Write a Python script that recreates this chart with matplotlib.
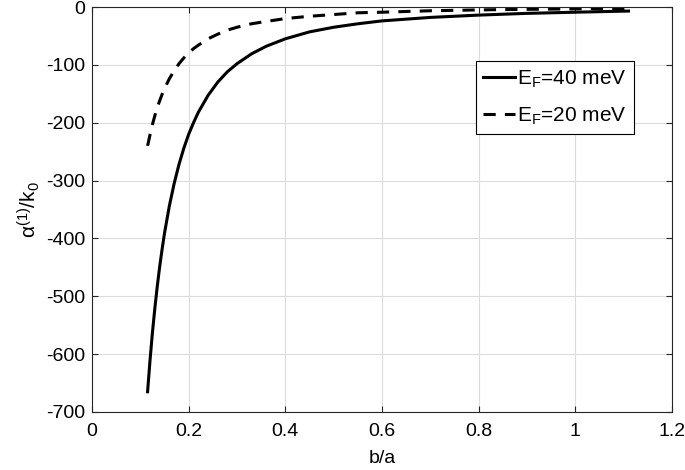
import matplotlib
matplotlib.use('Agg')
import matplotlib.pyplot as plt

# values
b_over_a = [0.115, 0.12, 0.125, 0.13, 0.135, 0.14, 0.145, 0.15, 0.16, 0.17,
            0.18, 0.19, 0.2, 0.21, 0.22, 0.24, 0.26, 0.28, 0.3, 0.33,
            0.36, 0.4, 0.45, 0.5, 0.55, 0.6, 0.7, 0.8, 0.9, 1.0, 1.11]
alpha_40 = [-665, -611, -563, -521, -483, -449, -419, -391, -344, -305,
            -272, -244, -220, -200, -182, -153, -130, -112, -98, -81,
            -68, -55, -43, -35, -29, -24, -18, -14, -11, -9, -7]
alpha_20 = [-240, -221, -203, -188, -174, -162, -151, -141, -124, -110,
            -98, -88, -79, -72, -66, -55, -47, -40, -35, -29,
            -25, -20, -16, -13, -10, -9, -6.5, -5, -4, -3.2, -2.6]
labels = ['E$_{\\rm F}$=40 meV', 'E$_{\\rm F}$=20 meV']

plt.rcParams['font.family'] = ['Liberation Sans', 'DejaVu Sans']
plt.rcParams['mathtext.fontset'] = 'custom'
plt.rcParams['mathtext.rm'] = 'Liberation Sans'
plt.rcParams['mathtext.it'] = 'Liberation Sans'
plt.rcParams['axes.unicode_minus'] = False

fig = plt.figure(figsize=(6.85, 4.70), dpi=100)
ax = fig.add_axes([92 / 685, 1 - 412 / 470, 580 / 685, 405 / 470])

ax.plot(b_over_a, alpha_40, color='black', linewidth=2.2, label=labels[0])
ax.plot(b_over_a, alpha_20, color='black', linewidth=2.2, linestyle=(0, (4, 3)), label=labels[1])

ax.set_xlim(0, 1.2)
ax.set_ylim(-700, 0)
ax.set_xticks([0, 0.2, 0.4, 0.6, 0.8, 1, 1.2])
ax.set_xticklabels(['0', '0.2', '0.4', '0.6', '0.8', '1', '1.2'])
ax.set_yticks(range(-700, 1, 100))

ax.set_xlabel('b/a', fontsize=14, labelpad=7)
ax.set_ylabel('α$^{\\rm (1)}$/k$_{\\rm 0}$', fontsize=15, labelpad=3)

ax.grid(True, color='#dcdcdc', linewidth=0.8)
ax.set_axisbelow(True)
for s in ax.spines.values():
    s.set_color('#262626')
    s.set_linewidth(0.8)
ax.tick_params(direction='in', top=True, right=True, labelsize=14, colors='#262626',
               length=4, width=0.8, labelcolor='black')
ax.tick_params(axis='x', pad=8)
ax.tick_params(axis='y', pad=5)

leg = ax.legend(loc='upper left', bbox_to_anchor=((476 - 92) / 580, 1 - (61 - 7) / 405),
                fontsize=15, frameon=True, fancybox=False, edgecolor='black',
                handlelength=1.5, handletextpad=0.1, borderpad=0.35, labelspacing=0.75,
                borderaxespad=0, framealpha=1)
leg.get_frame().set_linewidth(0.8)

plt.savefig('out.png', dpi=100)
plt.close()
